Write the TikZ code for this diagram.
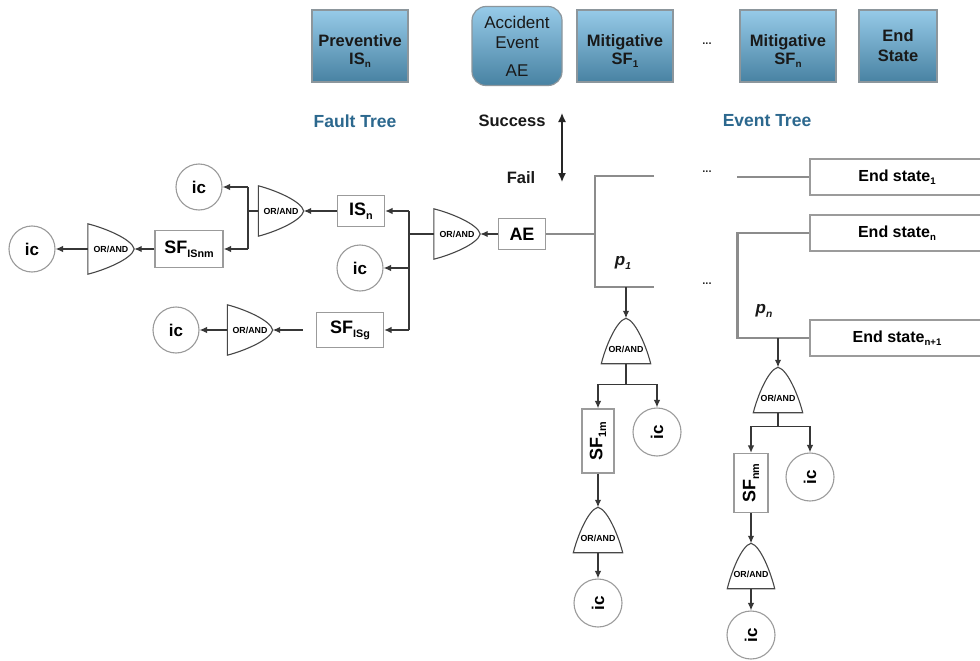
\documentclass[tikz,border=0pt]{standalone}
\usepackage{fontspec}
\setmainfont{Liberation Sans}
\usetikzlibrary{arrows.meta,calc}

\definecolor{hdrtop}{RGB}{150,202,232}
\definecolor{hdrbot}{RGB}{72,130,162}
\definecolor{hdrline}{RGB}{140,150,156}
\definecolor{ttlcol}{RGB}{44,104,142}
\definecolor{boxline}{RGB}{155,155,155}
\definecolor{etline}{RGB}{140,140,140}
\definecolor{conn}{RGB}{55,55,55}

% small lowered index set in the running font
\newcommand\subtx[1]{\raisebox{-0.4ex}{\scalebox{0.6}{#1}}}
% strut that lowers a two-line header label a little
\newcommand\hdrstrut{\rule{0pt}{22pt}}

% outline of a gate whose tip points east (flat side west)
\newcommand\gateoutE[1]{%
  \draw[gateline] let \p1=(#1.north west), \p2=(#1.south east) in
    (\x1,\y2) -- (\x1,\y1)
    .. controls ({\x1+0.35*(\x2-\x1)},{\y1+0.08*(\y2-\y1)}) and ({\x1+0.95*(\x2-\x1)},{\y1+0.30*(\y2-\y1)}) .. (\x2,{0.5*(\y1+\y2)})
    .. controls ({\x1+0.95*(\x2-\x1)},{\y1+0.70*(\y2-\y1)}) and ({\x1+0.35*(\x2-\x1)},{\y1+0.92*(\y2-\y1)}) .. (\x1,\y2) -- cycle;}
% outline of a gate whose tip points north (flat side south)
\newcommand\gateoutN[1]{%
  \draw[gateline] let \p1=(#1.north west), \p2=(#1.south east) in
    (\x1,\y2)
    .. controls ({\x1+0.08*(\x2-\x1)},{\y2+0.35*(\y1-\y2)}) and ({\x1+0.30*(\x2-\x1)},{\y2+0.95*(\y1-\y2)}) .. ({0.5*(\x1+\x2)},\y1)
    .. controls ({\x1+0.70*(\x2-\x1)},{\y2+0.95*(\y1-\y2)}) and ({\x1+0.92*(\x2-\x1)},{\y2+0.35*(\y1-\y2)}) .. (\x2,\y2) -- cycle;}

\tikzset{
  hdr/.style={draw=hdrline, line width=1.2pt, top color=hdrtop, bottom color=hdrbot,
    minimum width=96pt, minimum height=72pt, inner sep=1pt, align=center,
    font=\fontsize{16.5}{18}\selectfont\bfseries, text=black!90},
  box/.style={draw=boxline, line width=1.2pt, fill=white, inner sep=0pt,
    font=\fontsize{18}{20}\selectfont\bfseries},
  esbox/.style={box, minimum width=174pt, minimum height=36pt,
    font=\fontsize{16}{18}\selectfont\bfseries},
  icnode/.style={circle, draw=boxline, line width=1.1pt, fill=white, minimum size=46pt,
    inner sep=0pt, font=\fontsize{17}{18}\selectfont\bfseries},
  icev/.style={icnode, minimum size=48pt},
  gatebase/.style={rectangle, inner sep=0pt, font=\fontsize{8.8}{9}\selectfont\bfseries},
  gateE/.style={gatebase, minimum width=46pt, minimum height=50pt},
  gateN/.style={gatebase, minimum width=49pt, minimum height=45pt, text height=23pt, text depth=0pt},
  gateline/.style={draw=black!72, line width=1.1pt},
  arr/.style={draw=conn, line width=1.3pt, -{Latex[length=7.5pt,width=6.5pt]}},
  ln/.style={draw=conn, line width=1.3pt},
  dblarr/.style={draw=black!85, line width=1.3pt, {Latex[length=9pt,width=8pt]}-{Latex[length=9pt,width=8pt]}},
  et/.style={draw=etline, line width=2.5pt},
  lbl/.style={font=\fontsize{16.5}{18}\selectfont\bfseries, text=black!90},
  ttl/.style={font=\fontsize{17.5}{19}\selectfont\bfseries, text=ttlcol},
  plbl/.style={font=\fontsize{17}{18}\selectfont\bfseries\itshape, text=black!90},
  dots/.style={font=\fontsize{11}{12}\selectfont\bfseries, text=black!85},
}

\begin{document}
\begin{tikzpicture}[x=1pt,y=-1pt]
\useasboundingbox (0,0) rectangle (980,661);
\clip (0,0) rectangle (980,661);
\fill[white] (0,0) rectangle (980,661);

% ---- legend row ----
\node[hdr] (hPrev) at (360,46) {\hdrstrut Preventive\\IS\subtx{n}};
\node[hdr, rounded corners=14pt, minimum width=90pt, minimum height=79pt,
      font=\fontsize{17}{20}\selectfont] (hAE) at (517,46) {Accident\\Event\\[8pt]AE};
\node[hdr] (hSF1) at (625,46) {\hdrstrut Mitigative\\SF\subtx{1}};
\node[dots] (hDots) at (707,44) {...};
\node[hdr] (hSFn) at (788,46) {\hdrstrut Mitigative\\SF\subtx{n}};
\node[hdr, minimum width=78pt, font=\fontsize{16.5}{20}\selectfont\bfseries] (hEnd) at (898,46) {End\\State};

\node[ttl] (tFT) at (355,121) {Fault Tree};
\node[ttl] (tET) at (767,121) {Event Tree};
\node[lbl] (tS) at (512,121) {Success};
\node[lbl] (tF) at (521,178) {Fail};
\coordinate (sfTop) at (562,113);
\coordinate (sfBot) at (562,182);
\draw[dblarr] (sfTop) -- (sfBot);

% ---- event tree ----
\node[box, minimum width=47pt, minimum height=31pt] (ae) at (522,234) {AE};
\coordinate (brA) at (595,234);
\coordinate (brTop) at (595,176);
\coordinate (brTopE) at (654,176);
\coordinate (brBot) at (595,287);
\coordinate (brBotE) at (654,287);
\draw[et] (ae.east) -- (brA);
\draw[et] (brTopE) -- (brTop) -- (brBot) -- (brBotE);
\node[dots] (d1) at (707,172) {...};
\node[dots] (d2) at (707,284) {...};

\node[esbox] (es1) at (897,177) {End state\subtx{1}};
\node[esbox] (esn) at (897,233) {End state\subtx{n}};
\node[esbox] (esn1) at (897,338) {End state\subtx{n+1}};
\coordinate (es1L) at (737,177);
\draw[et] (es1L) -- (es1.west);
\draw[et] (esn.west) -- ++(-72,0) |- (esn1.west);

\node[plbl] (p1) at (623,263) {p\subtx{1}};
\node[plbl] (pn) at (764,311) {p\subtx{n}};

% branch below p1
\node[gateN] (g1) at (626,341) {OR/AND};
\gateoutN{g1}
\draw[arr] (g1.north |- brBot) -- (g1.north);
\node[box, minimum width=32pt, minimum height=64pt] (sf1m) at (598,441) {\rotatebox{90}{SF\subtx{1m}}};
\node[icev] (icA) at (657,432) {\rotatebox{90}{ic}};
\draw[ln] (g1.south) -- ++(0,21) coordinate (s1);
\draw[arr] (s1) -| (sf1m.north);
\draw[arr] (s1) -| (icA.north);
\node[gateN] (g2) at (598,530) {OR/AND};
\gateoutN{g2}
\draw[arr] (sf1m.south) -- (g2.north);
\node[icev] (icB) at (598,603) {\rotatebox{90}{ic}};
\draw[arr] (g2.south) -- (icB.north);

% branch below pn
\node[gateN] (g3) at (778,390) {OR/AND};
\gateoutN{g3}
\draw[arr] (g3.north |- esn1.west) -- (g3.north);
\draw[ln] (g3.south) -- ++(0,14) coordinate (s3);
\node[box, minimum width=34pt, minimum height=59pt] (sfnm) at (751,483) {\rotatebox{90}{SF\subtx{nm}}};
\node[icev] (icC) at (810,477) {\rotatebox{90}{ic}};
\draw[arr] (s3) -| (sfnm.north);
\draw[arr] (s3) -| (icC.north);
\node[gateN, minimum width=47pt] (g4) at (751,566) {OR/AND};
\gateoutN{g4}
\draw[arr] (sfnm.south) -- (g4.north);
\node[icev] (icD) at (751,635) {\rotatebox{90}{ic}};
\draw[arr] (g4.south) -- (icD.north);

% ---- fault tree ----
\node[gateE] (f1) at (457,234) {OR/AND};
\gateoutE{f1}
\draw[arr] (ae.west) -- (f1.east);
\coordinate (fv) at (409,234);
\draw[ln] (f1.west) -- (fv);
\node[box, minimum width=47pt, minimum height=31pt] (isn) at (361,211) {IS\subtx{n}};
\node[icnode] (icM) at (360,268) {ic};
\node[box, minimum width=67pt, minimum height=35pt] (sfisg) at (350,330) {SF\subtx{ISg}};
\draw[ln] (fv |- isn.east) -- (fv |- sfisg.east);
\draw[arr] (fv |- isn.east) -- (isn.east);
\draw[arr] (fv |- icM.east) -- (icM.east);
\draw[arr] (fv |- sfisg.east) -- (sfisg.east);

\node[gateE, minimum width=45pt] (f2) at (281,211) {OR/AND};
\gateoutE{f2}
\draw[arr] (isn.west) -- (f2.east);
\coordinate (fv2) at (248,211);
\draw[ln] (f2.west) -- (fv2);
\node[icnode] (icT) at (199,187) {ic};
\node[box, minimum width=68pt, minimum height=37pt] (sfisnm) at (189,249) {SF\subtx{ISnm}};
\draw[ln] (fv2 |- icT.east) -- (fv2 |- sfisnm.east);
\draw[arr] (fv2 |- icT.east) -- (icT.east);
\draw[arr] (fv2 |- sfisnm.east) -- (sfisnm.east);

\node[gateE] (f3) at (111,249) {OR/AND};
\gateoutE{f3}
\draw[arr] (sfisnm.west) -- (f3.east);
\node[icnode] (icL) at (32,249) {ic};
\draw[arr] (f3.west) -- (icL.east);

\node[gateE, minimum width=45pt] (f4) at (250,330) {OR/AND};
\gateoutE{f4}
\draw[arr, shorten <=13pt] (sfisg.west) -- (f4.east);
\node[icnode] (icBL) at (176,330) {ic};
\draw[arr] (f4.west) -- (icBL.east);
\end{tikzpicture}
\end{document}
